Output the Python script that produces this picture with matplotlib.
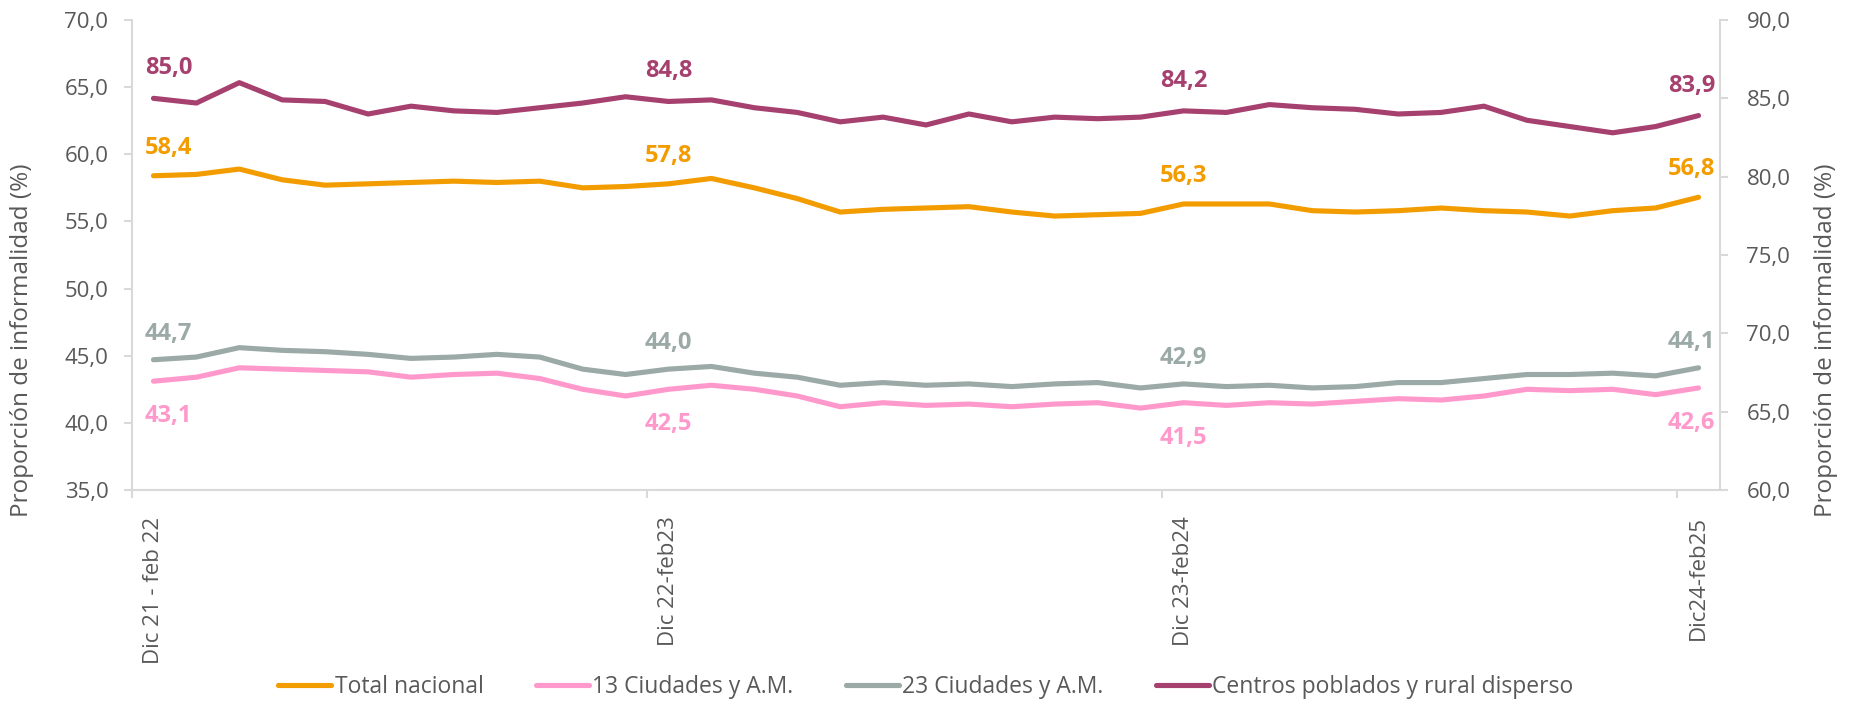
import matplotlib
matplotlib.use('Agg')
import matplotlib.pyplot as plt

# Trimestres móviles, dic 21 - feb 22 hasta dic 24 - feb 25
periodos = [
    'Dic 21 - feb 22', 'Ene - mar 22', 'Feb - abr 22', 'Mar - may 22', 'Abr - jun 22',
    'May - jul 22', 'Jun - ago 22', 'Jul - sep 22', 'Ago - oct 22', 'Sep - nov 22',
    'Oct - dic 22', 'Nov 22 - ene 23',
    'Dic 22-feb23', 'Ene - mar 23', 'Feb - abr 23', 'Mar - may 23', 'Abr - jun 23',
    'May - jul 23', 'Jun - ago 23', 'Jul - sep 23', 'Ago - oct 23', 'Sep - nov 23',
    'Oct - dic 23', 'Nov 23 - ene 24',
    'Dic 23-feb24', 'Ene - mar 24', 'Feb - abr 24', 'Mar - may 24', 'Abr - jun 24',
    'May - jul 24', 'Jun - ago 24', 'Jul - sep 24', 'Ago - oct 24', 'Sep - nov 24',
    'Oct - dic 24', 'Nov 24 - ene 25',
    'Dic24-feb25',
]

total_nacional = [58.4, 58.5, 58.9, 58.1, 57.7, 57.8, 57.9, 58.0, 57.9, 58.0,
                  57.5, 57.6, 57.8, 58.2, 57.5, 56.7, 55.7, 55.9, 56.0, 56.1,
                  55.7, 55.4, 55.5, 55.6, 56.3, 56.3, 56.3, 55.8, 55.7, 55.8,
                  56.0, 55.8, 55.7, 55.4, 55.8, 56.0, 56.8]
ciudades_13 = [43.1, 43.4, 44.1, 44.0, 43.9, 43.8, 43.4, 43.6, 43.7, 43.3,
               42.5, 42.0, 42.5, 42.8, 42.5, 42.0, 41.2, 41.5, 41.3, 41.4,
               41.2, 41.4, 41.5, 41.1, 41.5, 41.3, 41.5, 41.4, 41.6, 41.8,
               41.7, 42.0, 42.5, 42.4, 42.5, 42.1, 42.6]
ciudades_23 = [44.7, 44.9, 45.6, 45.4, 45.3, 45.1, 44.8, 44.9, 45.1, 44.9,
               44.0, 43.6, 44.0, 44.2, 43.7, 43.4, 42.8, 43.0, 42.8, 42.9,
               42.7, 42.9, 43.0, 42.6, 42.9, 42.7, 42.8, 42.6, 42.7, 43.0,
               43.0, 43.3, 43.6, 43.6, 43.7, 43.5, 44.1]
centros_rural = [85.0, 84.7, 86.0, 84.9, 84.8, 84.0, 84.5, 84.2, 84.1, 84.4,
                 84.7, 85.1, 84.8, 84.9, 84.4, 84.1, 83.5, 83.8, 83.3, 84.0,
                 83.5, 83.8, 83.7, 83.8, 84.2, 84.1, 84.6, 84.4, 84.3, 84.0,
                 84.1, 84.5, 83.6, 83.2, 82.8, 83.2, 83.9]

etiquetados = [0, 12, 24, 36]

C_TOTAL = '#F39C00'
C_13 = '#FF99CC'
C_23 = '#9BA9A7'
C_RURAL = '#A6406F'
C_TEXT = '#595959'
C_AXIS = '#D9D9D9'

plt.rcParams['font.family'] = ['Open Sans', 'DejaVu Sans']


def coma(v, pos=None):
    return f'{v:.1f}'.replace('.', ',')


fig = plt.figure(figsize=(18.5, 7.02), dpi=100)
ax = fig.add_axes([132 / 1850, 1 - 490 / 702, (1720 - 132) / 1850, 470 / 702])
ax2 = ax.twinx()

x = list(range(len(periodos)))
lw = 3.7
estilo = dict(lw=lw, solid_capstyle='round', solid_joinstyle='round')
ax.plot(x, total_nacional, color=C_TOTAL, label='Total nacional', **estilo)
ax.plot(x, ciudades_13, color=C_13, label='13 Ciudades y A.M.', **estilo)
ax.plot(x, ciudades_23, color=C_23, label='23 Ciudades y A.M.', **estilo)
ax2.plot(x, centros_rural, color=C_RURAL, label='Centros poblados y rural disperso', **estilo)

ax.set_xlim(-0.5, len(periodos) - 0.5)
ax.set_ylim(35, 70)
ax2.set_ylim(60, 90)
ax.set_yticks([35, 40, 45, 50, 55, 60, 65, 70])
ax2.set_yticks([60, 65, 70, 75, 80, 85, 90])
ax.yaxis.set_major_formatter(coma)
ax2.yaxis.set_major_formatter(coma)

# ticks at the category boundaries, labels at the category centres
ax.set_xticks([i - 0.5 for i in etiquetados])
ax.set_xticklabels([])
ax.set_xticks(etiquetados, minor=True)
ax.set_xticklabels([periodos[i] for i in etiquetados], minor=True, rotation=90,
                   fontsize=16, color=C_TEXT, va='top', ha='center')
ax.tick_params(axis='x', which='major', length=6, width=1.5, color=C_AXIS)
ax.tick_params(axis='x', which='minor', length=0, pad=19)

ax.tick_params(axis='y', length=6, width=1.5, color=C_AXIS, labelsize=16, labelcolor=C_TEXT, pad=11)
ax2.tick_params(axis='y', length=6, width=1.5, color=C_AXIS, labelsize=16, labelcolor=C_TEXT, pad=13)

for a in (ax, ax2):
    for s in a.spines.values():
        s.set_visible(False)
ax.spines['left'].set_visible(True)
ax.spines['bottom'].set_visible(True)
ax2.spines['right'].set_visible(True)
for s in (ax.spines['left'], ax.spines['bottom'], ax2.spines['right']):
    s.set_color(C_AXIS)
    s.set_linewidth(1.5)

fig.text(22 / 1850, 0.516, 'Proporción de informalidad (%)', rotation=90,
         ha='center', va='center', fontsize=17.5, color=C_TEXT)
fig.text(1826 / 1850, 0.516, 'Proporción de informalidad (%)', rotation=90,
         ha='center', va='center', fontsize=17.5, color=C_TEXT)

# data labels
desp_x = {0: 15, 12: 0, 24: 0, 36: -7}
series = [
    (ax, total_nacional, C_TOTAL, 28),
    (ax, ciudades_23, C_23, 26),
    (ax, ciudades_13, C_13, -35),
    (ax2, centros_rural, C_RURAL, 30),
]
for eje, vals, col, dy in series:
    for i in etiquetados:
        eje.annotate(coma(vals[i]), (i, vals[i]), xytext=(desp_x[i], dy),
                     textcoords='offset pixels', ha='center', va='center',
                     fontsize=17, fontweight='bold', color=col)

h1, l1 = ax.get_legend_handles_labels()
h2, l2 = ax2.get_legend_handles_labels()
fig.legend(h1 + h2, l1 + l2, loc='center', bbox_to_anchor=(926 / 1850, 1 - 687 / 702),
           ncol=4, frameon=False, fontsize=16.5, handlelength=2.3, handletextpad=0.15,
           columnspacing=2.3, labelcolor=C_TEXT)

fig.savefig('out.png', dpi=100)
